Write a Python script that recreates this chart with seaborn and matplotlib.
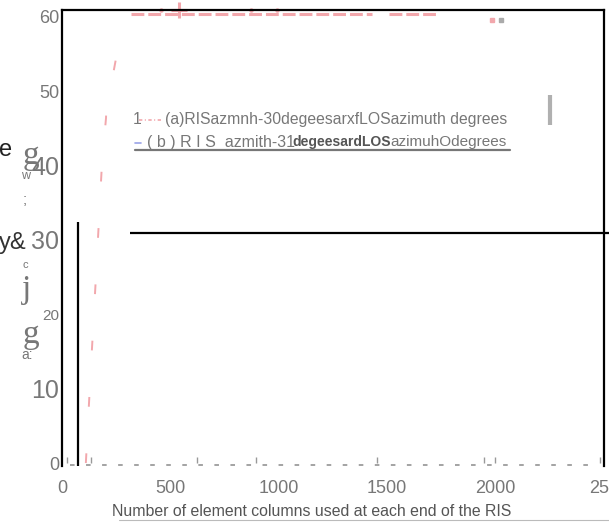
import matplotlib
matplotlib.use("Agg")
import matplotlib.pyplot as plt
import seaborn as sns
from matplotlib.lines import Line2D

# series (a): steep rise, then flat near the top
rise_x = [110, 129, 157, 184, 203, 207, 235, 281]
rise_y = [0, 10.5, 25.3, 40.1, 46.4, 50.2, 52.2, 59.4]
plat_a_x = [318, 1432]
plat_b_x = [1510, 1731]
plat_y = 60.4
top_dots_x = [456, 870, 990]
top_dots_y = [61.0, 61.0, 61.0]
plus_x = [539]
plus_y = [61.0]
end_dot_x = [1984]
end_dot_y = [59.6]
grey_dot_x = [2026]
grey_dot_y = [59.6]

# series (b): flat at zero
base_x = [37, 2477]
base_y = [-0.3, -0.3]
base_ticks_x = [23, 134, 622, 893, 1455, 1948, 1998, 2482]
base_ticks_y = [0.45] * 8

# extra black guide lines
vline_x = 74
vline_top = 32.4
hline_y = 31
hline_start = 313

xticks = [0, 500, 1000, 1500, 2000, 2500]
xtick_labels = ["0", "500", "1000", "1500", "2000", "250"]
yticks = [0, 10, 20, 30, 40, 50, 60]
ytick_sizes = [13, 18, 11, 18, 18, 13, 13]

PINK = "#f2a7ac"
GREY = "#777777"

sns.set_theme(style="white")
plt.rcParams["font.family"] = ["Liberation Sans", "DejaVu Sans"]

W, H = 609, 522
fig = plt.figure(figsize=(W / 100, H / 100), dpi=100)
ax = fig.add_axes([62 / W, 1 - 466 / H, 542 / W, 456.5 / H])


def px(x, y):
    return x / W, 1 - y / H


# series (a)
sns.lineplot(x=rise_x, y=rise_y, ax=ax, color=PINK, lw=1.4,
             linestyle=(0, (5, 24)))
sns.lineplot(x=plat_a_x, y=[plat_y] * 2, ax=ax, color=PINK, lw=2.2,
             linestyle=(0, (4.2, 1.3)))
sns.lineplot(x=plat_b_x, y=[plat_y] * 2, ax=ax, color=PINK, lw=2.2,
             linestyle=(0, (4.2, 1.3)))
ax.plot(top_dots_x, top_dots_y, ls="none", marker="o", ms=2.2, color=PINK,
        clip_on=False)
ax.plot(plus_x, plus_y, ls="none", marker="+", ms=11, mew=2.2, color=PINK,
        clip_on=False)
ax.plot(end_dot_x, end_dot_y, ls="none", marker="s", ms=2.4, color=PINK)
ax.plot(grey_dot_x, grey_dot_y, ls="none", marker="s", ms=2.4, color="#aaaaaa")

# series (b)
sns.lineplot(x=base_x, y=base_y, ax=ax, color="#8a8a8a", lw=1.1,
             linestyle=(0, (3, 7.5)))
ax.plot(base_ticks_x, base_ticks_y, ls="none", marker="|", ms=4, mew=1,
        color="#999999")

# black guide lines and grey bar
ax.vlines(vline_x, -0.4, vline_top, color="black", lw=1.6)
ax.hlines(hline_y, hline_start, 2530, color="black", lw=1.6, clip_on=False)
ax.vlines(2251, 45.5, 49.5, color="#b0b0b0", lw=3)

ax.set_xlim(0, 2500)
ax.set_ylim(-0.4, 61.0)
ax.set_xticks(xticks, xtick_labels)
ax.set_yticks(yticks, [str(v) for v in yticks])
for lab, fs in zip(ax.get_yticklabels(), ytick_sizes):
    lab.set_fontsize(fs)
    lab.set_color(GREY)
for lab in ax.get_xticklabels():
    lab.set_fontsize(13)
    lab.set_color(GREY)
ax.tick_params(axis="both", length=0)
ax.tick_params(axis="x", pad=10)
ax.tick_params(axis="y", pad=2)
for side in ["top", "left", "right"]:
    ax.spines[side].set_color("black")
    ax.spines[side].set_linewidth(1.6)
ax.spines["bottom"].set_visible(False)
ax.set_xlabel("")
ax.set_ylabel("")

# x label with its underline
fig.text(*px(312, 511), "Number of element columns used at each end of the RIS",
         ha="center", va="center", fontsize=11.4, color="#555555")
fig.add_artist(Line2D([119 / W, 1], [1 - 520 / H] * 2, transform=fig.transFigure,
                      color="#bbbbbb", lw=0.8))

# garbled y label pieces
serif = ["Liberation Serif", "DejaVu Serif"]
fig.text(*px(6, 150), "e", ha="center", va="center", fontsize=17, color="#222222")
fig.text(*px(13, 243), "y&", ha="center", va="center", fontsize=17, color="#333333")
fig.text(*px(31, 156), "g", ha="center", va="center", fontsize=24, color=GREY, family=serif)
fig.text(*px(26, 176), "w", ha="center", va="center", fontsize=9, color=GREY)
fig.text(*px(25, 200), ";", ha="center", va="center", fontsize=11, color=GREY)
fig.text(*px(25, 265), "c", ha="center", va="center", fontsize=8, color=GREY)
fig.text(*px(27, 290), "j", ha="center", va="center", fontsize=24, color=GREY, family=serif)
fig.text(*px(31, 335), "g", ha="center", va="center", fontsize=24, color=GREY, family=serif)
fig.text(*px(27, 355), "a:", ha="center", va="center", fontsize=10, color=GREY)

# legend, line (a)
fig.text(*px(133, 120), "1", ha="left", va="center", fontsize=11.3, color=GREY)
fig.add_artist(Line2D([139 / W, 163 / W], [1 - 120 / H] * 2, transform=fig.transFigure,
                      color=PINK, lw=1.2, ls=(0, (2, 1.5, 0.6, 1.5))))
fig.text(*px(165, 120), "(a)RISazmnh-30degeesarxfLOSazimuth degrees",
         ha="left", va="center", fontsize=11.3, color=GREY)

# legend, line (b)
fig.add_artist(Line2D([135 / W, 141 / W], [1 - 142.5 / H] * 2, transform=fig.transFigure,
                      color="#9aa3e8", lw=1.2))
fig.text(*px(147, 142), "( b ) R I S_azmith-31 ", ha="left", va="center",
         fontsize=11.5, color=GREY)
fig.text(*px(292, 142), "degeesardLOS", ha="left", va="center",
         fontsize=10, color="#555555", fontweight="bold")
fig.text(*px(390, 142), "azimuhOdegrees", ha="left", va="center",
         fontsize=11, color=GREY)
fig.add_artist(Line2D([135 / W, 510 / W], [1 - 149.5 / H] * 2, transform=fig.transFigure,
                      color="#777777", lw=1.6))

fig.savefig("out.png", dpi=100)
